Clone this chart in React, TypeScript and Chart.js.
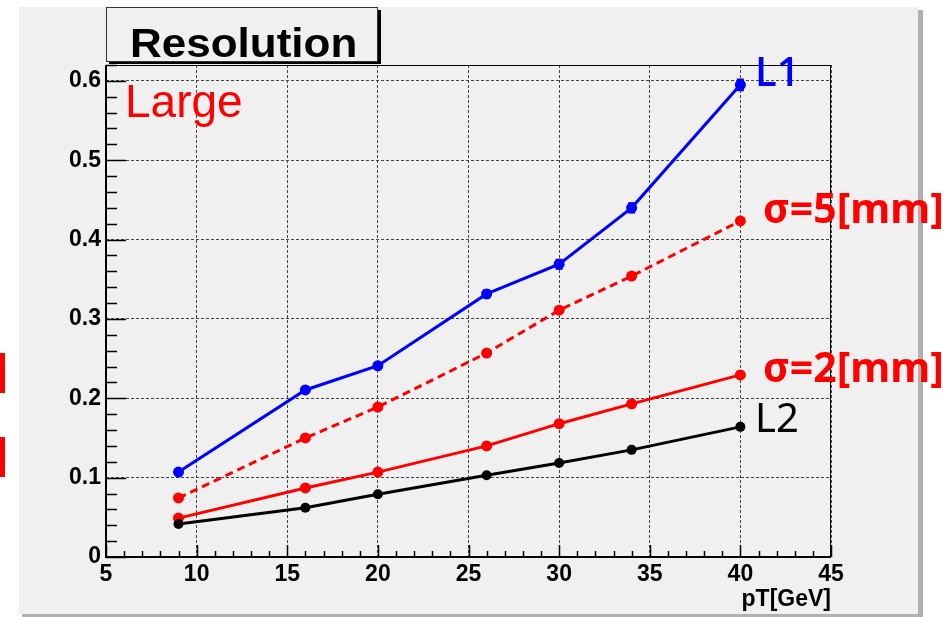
import React, { useEffect, useRef } from "react";
import { Chart, registerables } from "chart.js";

Chart.register(...registerables);

// pT points shared by every curve
const ptValues = [9, 16, 20, 26, 30, 34, 40];

// resolution curves
const l1Values = [0.107, 0.2105, 0.241, 0.3315, 0.369, 0.44, 0.595];
const l1Errors = [0.003, 0.004, 0.004, 0.006, 0.007, 0.007, 0.008];
const sigma5Values = [0.0744, 0.15, 0.189, 0.257, 0.311, 0.354, 0.4235];
const sigma2Values = [0.049, 0.087, 0.107, 0.14, 0.168, 0.193, 0.2295];
const l2Values = [0.0416, 0.062, 0.079, 0.103, 0.1185, 0.135, 0.164];

// axis ranges and tick steps
const xRange = [5, 45];
const yRange = [0, 0.62];
const xMajorStep = 5;
const xMinorStep = 1;
const yMajorStep = 0.1;
const yMinorStep = 0.02;

const titleText = "Resolution";
const xAxisTitle = "pT[GeV]";
const panelLabel = "Large";
const l1Label = "L1";
const l2Label = "L2";
const sigma5Label = "σ=5[mm]";
const sigma2Label = "σ=2[mm]";

const PANEL_BG = "#f0f0f0";
const HELV = '"Liberation Sans", Arial, sans-serif';
const NOTO = '"Noto Sans", "DejaVu Sans", sans-serif';
const OPEN = '"Open Sans", "Noto Sans", sans-serif';

const toPoints = (ys: number[]) => ptValues.map((x, i) => ({ x, y: ys[i] }));

const framePlugin = {
  id: "rootFrame",
  beforeDraw(chart: any) {
    const { ctx, width, height } = chart;
    ctx.save();
    ctx.fillStyle = "#ffffff";
    ctx.fillRect(0, 0, width, height);
    // canvas panel with its shadow
    ctx.fillStyle = "#b0b0b0";
    ctx.fillRect(918, 10, 5, 607);
    ctx.fillRect(22, 614, 901, 3);
    ctx.fillStyle = PANEL_BG;
    ctx.fillRect(19, 7, 899, 607);
    // stray red marks on the left edge
    ctx.fillStyle = "#ff0000";
    ctx.fillRect(0, 353, 5, 40);
    ctx.fillRect(0, 437, 5, 40);
    ctx.restore();
  },
  beforeDatasetsDraw(chart: any) {
    const { ctx, chartArea: a, scales } = chart;
    const xs = scales.x;
    const ys = scales.y;
    ctx.save();
    ctx.strokeStyle = "#000";
    // frame
    ctx.lineWidth = 1;
    ctx.strokeRect(a.left + 0.5, a.top + 0.5, a.right - a.left - 1, a.bottom - a.top);
    // axes lines
    ctx.lineWidth = 2;
    ctx.beginPath();
    ctx.moveTo(a.left, a.top);
    ctx.lineTo(a.left, a.bottom);
    ctx.lineTo(a.right, a.bottom);
    ctx.stroke();
    // x ticks, pointing into the plot
    ctx.lineWidth = 1.5;
    ctx.beginPath();
    for (let v = xRange[0]; v <= xRange[1] + 1e-9; v += xMinorStep) {
      const px = Math.round(xs.getPixelForValue(v)) + 0.5;
      const major = Math.abs(v / xMajorStep - Math.round(v / xMajorStep)) < 1e-6;
      const len = major ? 12 : 6;
      ctx.moveTo(px, a.bottom);
      ctx.lineTo(px, a.bottom - len);
    }
    ctx.stroke();
    // y ticks
    ctx.beginPath();
    const nMinor = Math.floor((yRange[1] - yRange[0]) / yMinorStep + 1e-6);
    for (let i = 0; i <= nMinor; i++) {
      const v = yRange[0] + i * yMinorStep;
      const py = Math.round(ys.getPixelForValue(v)) + 0.5;
      const major = Math.abs(v / yMajorStep - Math.round(v / yMajorStep)) < 1e-6;
      const len = major ? 20 : 11;
      ctx.moveTo(a.left, py);
      ctx.lineTo(a.left + len, py);
    }
    ctx.stroke();
    ctx.restore();
  },
  afterDatasetsDraw(chart: any) {
    const { ctx, scales } = chart;
    const xs = scales.x;
    const ys = scales.y;
    ctx.save();
    // error bars for L1
    ctx.strokeStyle = "#0000ff";
    ctx.lineWidth = 7;
    ctx.beginPath();
    ptValues.forEach((x, i) => {
      const px = xs.getPixelForValue(x);
      ctx.moveTo(px, ys.getPixelForValue(l1Values[i] - l1Errors[i]));
      ctx.lineTo(px, ys.getPixelForValue(l1Values[i] + l1Errors[i]));
    });
    ctx.stroke();
    ctx.restore();
  },
  afterDraw(chart: any) {
    const { ctx, chartArea: a } = chart;
    ctx.save();
    // title box with shadow
    ctx.fillStyle = "#000";
    ctx.fillRect(378, 10, 3, 54);
    ctx.fillRect(109, 62, 272, 2);
    ctx.fillStyle = PANEL_BG;
    ctx.fillRect(106, 7, 272, 55);
    ctx.strokeStyle = "#333";
    ctx.lineWidth = 1;
    ctx.strokeRect(106.5, 7.5, 271, 54);
    ctx.fillStyle = "#000";
    ctx.font = `bold 40px ${HELV}`;
    ctx.textBaseline = "alphabetic";
    ctx.textAlign = "left";
    ctx.save();
    ctx.translate(130, 57);
    ctx.scale(1.1, 1);
    ctx.fillText(titleText, 0, 0);
    ctx.restore();

    // x axis title
    ctx.font = `bold 23px ${HELV}`;
    ctx.textAlign = "right";
    ctx.fillText(xAxisTitle, a.right, 606);

    // labels
    ctx.textAlign = "left";
    ctx.fillStyle = "#ff0000";
    ctx.font = `46px ${HELV}`;
    ctx.fillText(panelLabel, 125, 117);

    ctx.fillStyle = "#0000ff";
    ctx.font = `600 40px ${OPEN}`;
    ctx.fillText(l1Label, 755, 86);

    ctx.fillStyle = "#000000";
    ctx.font = `40px ${NOTO}`;
    ctx.fillText(l2Label, 755, 432);

    ctx.fillStyle = "#ff0000";
    ctx.font = `bold 41px ${NOTO}`;
    ctx.fillText(sigma5Label, 763, 223);
    ctx.fillText(sigma2Label, 763, 382);
    ctx.restore();
  },
};

export default function App() {
  const canvasRef = useRef<HTMLCanvasElement | null>(null);

  useEffect(() => {
    if (!canvasRef.current) return;
    const line = (data: number[], color: string, radius: number, dash: number[] = []) => ({
      data: toPoints(data),
      showLine: true,
      borderColor: color,
      backgroundColor: color,
      borderWidth: 3,
      borderDash: dash,
      pointRadius: radius,
      pointHoverRadius: radius,
      pointBorderWidth: 0,
      tension: 0,
    });

    const chart = new Chart(canvasRef.current, {
      type: "scatter",
      data: {
        datasets: [
          line(l2Values, "#000000", 5),
          line(sigma2Values, "#ff0000", 5.5),
          line(sigma5Values, "#ff0000", 5.5, [8, 5]),
          line(l1Values, "#0000ff", 5.5),
        ],
      },
      options: {
        responsive: false,
        animation: false,
        events: [],
        layout: { padding: { left: 0, right: 116, top: 65, bottom: 0 } },
        plugins: { legend: { display: false }, tooltip: { enabled: false } },
        scales: {
          x: {
            type: "linear",
            min: xRange[0],
            max: xRange[1],
            afterFit: (s: any) => {
              s.height = 60;
            },
            border: { display: false, dash: [3, 2] },
            grid: { color: "#444", lineWidth: 1, drawTicks: false },
            ticks: {
              stepSize: xMajorStep,
              color: "#000",
              padding: 4,
              maxRotation: 0,
              autoSkip: false,
              font: { family: HELV, weight: "bold", size: 23 },
              callback: (v: any) => String(v),
            },
          },
          y: {
            type: "linear",
            min: yRange[0],
            max: yRange[1],
            afterFit: (s: any) => {
              s.width = 106;
            },
            border: { display: false, dash: [3, 2] },
            grid: { color: "#444", lineWidth: 1, drawTicks: false },
            ticks: {
              stepSize: yMajorStep,
              includeBounds: false,
              color: "#000",
              padding: 5,
              autoSkip: false,
              font: { family: HELV, weight: "bold", size: 23 },
              callback: (v: any) => (Math.abs(v) < 1e-9 ? "0" : Number(v).toFixed(1)),
            },
          },
        },
      } as any,
      plugins: [framePlugin],
    });
    return () => chart.destroy();
  }, []);

  return (
    <div style={{ position: "fixed", left: 0, top: 0, width: 947, height: 617 }}>
      <canvas ref={canvasRef} width={947} height={617} style={{ display: "block" }} />
    </div>
  );
}
